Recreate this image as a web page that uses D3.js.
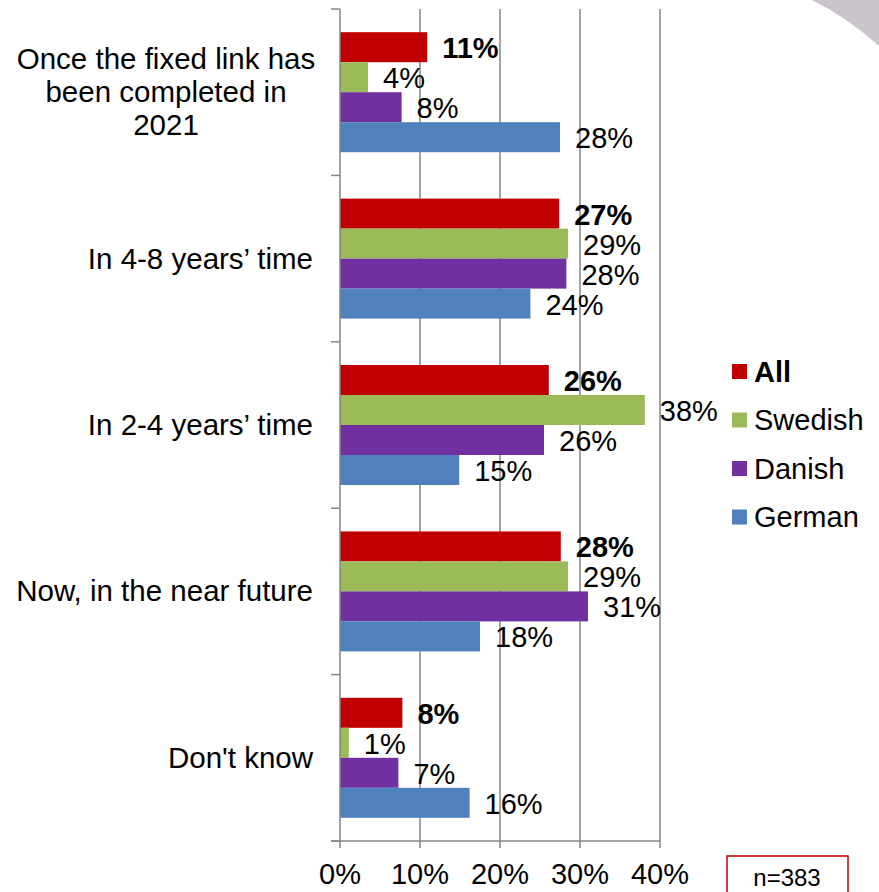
<!DOCTYPE html>
<html><head><meta charset="utf-8">
<script src="https://cdn.jsdelivr.net/npm/d3@7"></script>
<style>body{margin:0;background:#fff}svg{display:block;font-family:"Liberation Sans",Arial,sans-serif}</style>
</head><body><div id="chart"></div>
<script>
const categories = [["Once the fixed link has","been completed in","2021"],["In 4-8 years’ time"],["In 2-4 years’ time"],["Now, in the near future"],["Don't know"]];
const series = ["All","Swedish","Danish","German"];
const colors = ["#c00000","#9bbb59","#7030a0","#4f81bd"];
const valAll     = [10.9, 27.4, 26.1, 27.6, 7.8];
const valSwedish = [3.5, 28.5, 38.1, 28.5, 1.1];
const valDanish  = [7.7, 28.3, 25.5, 31.0, 7.3];
const valGerman  = [27.5, 23.8, 14.9, 17.5, 16.2];
const labAll     = ["11%","27%","26%","28%","8%"];
const labSwedish = ["4%","29%","38%","29%","1%"];
const labDanish  = ["8%","28%","26%","31%","7%"];
const labGerman  = ["28%","24%","15%","18%","16%"];
const xTicks = [0,10,20,30,40];
const xTickLabels = ["0%","10%","20%","30%","40%"];
const nLabel = "n=383";

const values = [valAll, valSwedish, valDanish, valGerman];
const labels = [labAll, labSwedish, labDanish, labGerman];

const W = 879, H = 892;
const svg = d3.select("#chart").append("svg").attr("width", W).attr("height", H);

// decorative page corner
svg.append("path").attr("d", "M812,0 Q848,18 879,46 L879,0 Z").attr("fill", "#c9c5ca");

const x = d3.scaleLinear().domain([0, 40]).range([340, 660]);
const y = d3.scaleBand().domain(d3.range(categories.length)).range([9, 841]);
const bw = y.bandwidth();
const barH = 30;
const yi = d3.scaleBand().domain(d3.range(series.length)).range([(bw - 4*barH)/2, (bw + 4*barH)/2]);

const gridColor = "#868686";
// gridlines
svg.append("g").selectAll("line").data(xTicks.slice(1)).join("line")
  .attr("x1", d => x(d)).attr("x2", d => x(d)).attr("y1", 9).attr("y2", 841)
  .attr("stroke", gridColor).attr("stroke-width", 1.5);

// bars
const groups = svg.append("g").selectAll("g").data(d3.range(categories.length)).join("g")
  .attr("transform", c => `translate(0,${y(c)})`);
groups.each(function(c){
  const g = d3.select(this);
  series.forEach((s, i) => {
    g.append("rect").attr("x", x(0)).attr("y", yi(i)).attr("width", x(values[i][c]) - x(0)).attr("height", yi.bandwidth())
      .attr("fill", colors[i]);
  });
  series.forEach((s, i) => {
    g.append("text").attr("x", x(values[i][c]) + 15).attr("y", yi(i) + yi.bandwidth()/2 + 11)
      .attr("font-size", 29).attr("font-weight", i === 0 ? "bold" : "normal").attr("fill", "#000")
      .text(labels[i][c]);
  });
});

// y axis
const yAxisG = svg.append("g");
yAxisG.append("line").attr("x1", x(0)).attr("x2", x(0)).attr("y1", 9).attr("y2", 841).attr("stroke", gridColor).attr("stroke-width", 1.5);
const bounds = d3.range(categories.length + 1).map(i => 9 + i * bw);
yAxisG.selectAll("line.t").data(bounds).join("line").attr("class","t")
  .attr("x1", 331).attr("x2", x(0)).attr("y1", d => d).attr("y2", d => d).attr("stroke", gridColor).attr("stroke-width", 1.5);

// x axis
const xAxisG = svg.append("g");
xAxisG.append("line").attr("x1", 331).attr("x2", x(40)).attr("y1", 841).attr("y2", 841).attr("stroke", gridColor).attr("stroke-width", 1.5);
xAxisG.selectAll("line.t").data(xTicks).join("line").attr("class","t")
  .attr("x1", d => x(d)).attr("x2", d => x(d)).attr("y1", 841).attr("y2", 848).attr("stroke", gridColor).attr("stroke-width", 1.5);
xAxisG.selectAll("text").data(xTicks).join("text")
  .attr("x", d => x(d)).attr("y", 884).attr("text-anchor", "middle").attr("font-size", 29)
  .text((d, i) => xTickLabels[i]);

// category labels
svg.append("g").selectAll("text").data(categories).join("text")
  .attr("font-size", 29.5)
  .each(function(lines, c){
    const t = d3.select(this);
    const lh = 33;
    const cy = y(c) + bw/2;
    const start = cy - (lines.length - 1) * lh / 2 + 10;
    lines.forEach((ln, k) => {
      t.append("tspan").attr("x", lines.length > 1 ? 166 : 313).attr("text-anchor", lines.length > 1 ? "middle" : "end")
        .attr("y", start + k * lh).text(ln);
    });
  });

// legend
const lg = svg.append("g").attr("transform", "translate(732,364)");
series.forEach((s, i) => {
  lg.append("rect").attr("x", 0).attr("y", i * 48.5).attr("width", 15).attr("height", 15).attr("fill", colors[i]);
  lg.append("text").attr("x", 22).attr("y", i * 48.5 + 17.5).attr("font-size", 29)
    .attr("font-weight", i === 0 ? "bold" : "normal").text(s);
});

// n box
svg.append("rect").attr("x", 727).attr("y", 856).attr("width", 121).attr("height", 60)
  .attr("fill", "none").attr("stroke", "#c00000").attr("stroke-width", 1.5);
svg.append("text").attr("x", 787).attr("y", 886).attr("text-anchor", "middle").attr("font-size", 24).text(nLabel);
</script></body></html>
